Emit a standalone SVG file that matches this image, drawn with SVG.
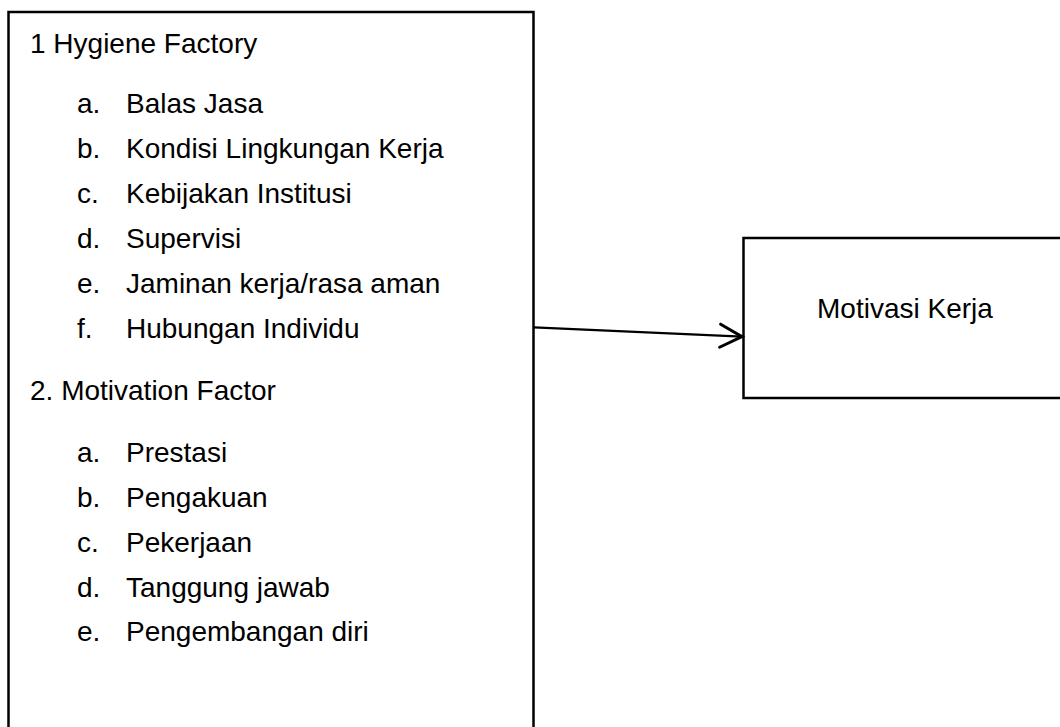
<svg xmlns="http://www.w3.org/2000/svg" width="1060" height="727" viewBox="0 0 1060 727">
<defs>
<style>
.box{fill:#fff;stroke:#000;stroke-width:2.5}
.t{font-family:"Liberation Sans",Arial,sans-serif;font-size:28px;fill:#000}
.conn{fill:none;stroke:#000;stroke-width:2.2}
</style>
<marker id="open" markerUnits="userSpaceOnUse" markerWidth="30" markerHeight="30" viewBox="-22 -13 26 26" refX="0" refY="0" orient="auto">
<path d="M-19,-10 L0,0 L-19,10" fill="none" stroke="#000" stroke-width="2.6" stroke-linecap="round" stroke-linejoin="miter"/>
</marker>
</defs>
<rect width="1060" height="727" fill="#fff"/>
<g id="factors">
<rect class="box" x="8.5" y="12" width="525" height="740"/>
<text class="t" x="30" y="53">1 Hygiene Factory</text>
<text class="t" x="77" y="113">a.</text><text class="t" x="126" y="113">Balas Jasa</text>
<text class="t" x="77" y="158">b.</text><text class="t" x="126" y="158">Kondisi Lingkungan Kerja</text>
<text class="t" x="77" y="203">c.</text><text class="t" x="126" y="203">Kebijakan Institusi</text>
<text class="t" x="77" y="248">d.</text><text class="t" x="126" y="248">Supervisi</text>
<text class="t" x="77" y="293">e.</text><text class="t" x="126" y="293">Jaminan kerja/rasa aman</text>
<text class="t" x="77" y="338">f.</text><text class="t" x="126" y="338">Hubungan Individu</text>
<text class="t" x="30" y="400">2. Motivation Factor</text>
<text class="t" x="77" y="462">a.</text><text class="t" x="126" y="462">Prestasi</text>
<text class="t" x="77" y="507">b.</text><text class="t" x="126" y="507">Pengakuan</text>
<text class="t" x="77" y="552">c.</text><text class="t" x="126" y="552">Pekerjaan</text>
<text class="t" x="77" y="597">d.</text><text class="t" x="126" y="597">Tanggung jawab</text>
<text class="t" x="77" y="641">e.</text><text class="t" x="126" y="641">Pengembangan diri</text>
</g>
<g id="motivasi">
<rect class="box" x="743.5" y="238" width="330" height="160"/>
<text class="t" x="817" y="318">Motivasi Kerja</text>
</g>
<g id="connectors">
<line class="conn" x1="534" y1="327.3" x2="742" y2="336.7" marker-end="url(#open)"/>
</g>
</svg>
